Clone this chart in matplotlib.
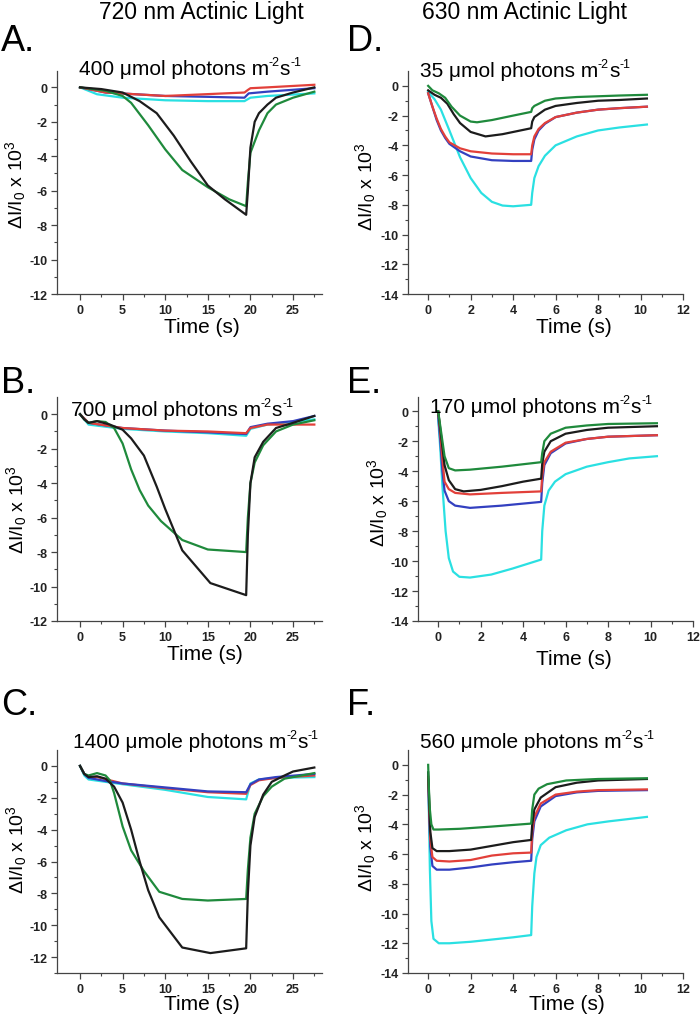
import numpy as np
import matplotlib.pyplot as plt

plt.rcParams['font.family'] = ['Liberation Sans', 'DejaVu Sans']
plt.rcParams['mathtext.fontset'] = 'custom'
plt.rcParams['mathtext.rm'] = 'Liberation Sans'
plt.rcParams['mathtext.it'] = 'Liberation Sans:italic'
plt.rcParams['axes.unicode_minus'] = False

BLACK = '#1c1c1c'
GREEN = '#1f8a3c'
RED = '#e2403a'
BLUE = '#3340c0'
CYAN = '#2ae0e2'

# --- Panel A: 720 nm, 400 umol ---
a_black = [(0, 0), (2.5, -0.1), (5, -0.3), (7, -0.8), (9, -1.5), (11, -2.8), (13, -4.3), (15, -5.7),
           (17, -6.5), (19.5, -7.4), (19.7, -6), (20, -3.5), (20.5, -2), (21, -1.5), (22, -1.0),
           (23, -0.6), (25, -0.3), (27.5, 0)]
a_green = [(0, 0), (3, -0.2), (5, -0.5), (6, -0.9), (8, -2.2), (10, -3.6), (12, -4.8), (15, -5.8),
           (17.5, -6.5), (19.5, -6.9), (19.7, -5.5), (20, -3.8), (21, -2.5), (22, -1.5), (23, -1.0),
           (25, -0.6), (27.5, -0.25)]
a_red = [(0, 0), (3, -0.3), (10, -0.5), (19.3, -0.3), (19.7, -0.15), (20, -0.05), (22, 0), (27.5, 0.15)]
a_blue = [(0, 0), (3, -0.3), (10, -0.5), (15, -0.55), (19.3, -0.6), (19.8, -0.35), (22, -0.25), (27.5, -0.05)]
a_cyan = [(0, 0), (2, -0.4), (5, -0.6), (10, -0.75), (15, -0.8), (19.3, -0.8), (20, -0.6), (22, -0.5),
          (27.5, -0.35)]

# --- Panel B: 720 nm, 700 umol ---
b_black = [(0, 0), (0.5, -0.3), (1, -0.5), (2, -0.4), (3.5, -0.6), (5, -0.9), (6, -1.4), (7.5, -2.4),
           (9, -4.2), (10, -5.5), (12, -7.9), (15.3, -9.8), (19.5, -10.5), (19.7, -7), (20, -4),
           (20.5, -2.5), (21.5, -1.6), (23, -0.8), (25, -0.5), (27.5, -0.1)]
b_green = [(0, 0), (0.5, -0.3), (1, -0.5), (2, -0.4), (3, -0.45), (4, -0.8), (5, -1.7), (6, -3.2),
           (7, -4.4), (8, -5.3), (9.5, -6.2), (12, -7.3), (15, -7.85), (19.5, -8.0), (19.7, -6),
           (20, -4), (20.5, -2.8), (21.5, -1.8), (23, -1.0), (25, -0.6), (27.5, -0.35)]
b_red = [(0, 0), (1, -0.5), (5, -0.8), (10, -0.95), (15, -1.0), (19.5, -1.1), (20, -0.8), (22, -0.6),
         (27.5, -0.6)]
b_blue = [(0, 0), (1, -0.5), (5, -0.8), (10, -0.95), (15, -1.05), (19.5, -1.15), (20, -0.75),
          (22, -0.55), (25, -0.4), (27.5, -0.1)]
b_cyan = [(0, 0), (1, -0.6), (5, -0.85), (10, -1.0), (15, -1.1), (19.5, -1.25), (20, -0.85), (22, -0.6),
          (27.5, -0.3)]

# --- Panel C: 720 nm, 1400 umol ---
c_black = [(0, 0), (0.5, -0.5), (1, -0.7), (2, -0.65), (3, -0.8), (4, -1.3), (5, -2.3), (6, -4.0),
           (7, -6.0), (8, -7.8), (9.3, -9.5), (12, -11.4), (15.3, -11.75), (19.5, -11.45), (19.7, -8),
           (20, -5), (20.5, -3.2), (21.5, -1.8), (22.5, -1.0), (24, -0.6), (25, -0.35), (27.5, -0.1)]
c_green = [(0, 0), (0.5, -0.5), (1, -0.6), (2, -0.45), (3, -0.6), (3.5, -0.9), (4, -1.7), (5, -3.8),
           (6, -5.3), (7.5, -6.6), (9.3, -7.9), (12, -8.35), (15, -8.45), (19.5, -8.35), (19.7, -6.5),
           (20, -4.5), (20.5, -3.0), (21.5, -1.9), (22.5, -1.3), (24, -0.8), (27.5, -0.45)]
c_red = [(0, 0), (0.5, -0.5), (1, -0.7), (2, -0.7), (5, -1.1), (10, -1.4), (15, -1.65), (19.5, -1.75),
         (20, -1.2), (21, -0.9), (23, -0.75), (27.5, -0.6)]
c_blue = [(0, 0), (0.5, -0.5), (1, -0.75), (3, -0.95), (5, -1.1), (10, -1.35), (15, -1.6), (19.5, -1.65),
          (20, -1.15), (21, -0.85), (23, -0.7), (27.5, -0.5)]
c_cyan = [(0, 0), (0.5, -0.6), (1, -0.85), (3, -1.0), (5, -1.15), (10, -1.5), (15, -1.95), (19.5, -2.1),
          (20, -1.1), (21, -0.85), (23, -0.75), (27.5, -0.7)]

# --- Panel D: 630 nm, 35 umol ---
d_green = [(0, 0), (0.2, -0.3), (0.5, -0.5), (0.8, -0.8), (1.1, -1.4), (1.5, -2.0), (2.0, -2.4),
           (2.3, -2.45), (3, -2.3), (4, -2.0), (4.85, -1.75), (4.9, -1.5), (5.0, -1.35), (5.5, -1.0),
           (6, -0.85), (7, -0.75), (8, -0.7), (9, -0.65), (10.3, -0.6)]
d_black = [(0, -0.3), (0.3, -0.6), (0.6, -0.8), (0.9, -1.2), (1.2, -1.9), (1.5, -2.5), (2, -3.1),
           (2.7, -3.4), (3.5, -3.25), (4.85, -2.85), (4.9, -2.4), (5.0, -2.1), (5.5, -1.6), (6, -1.35),
           (7, -1.15), (8, -1.0), (9, -0.95), (10.3, -0.85)]
d_red = [(0, -0.5), (0.2, -1.4), (0.4, -2.2), (0.6, -2.9), (0.8, -3.4), (1.0, -3.8), (1.5, -4.2),
         (2, -4.4), (3, -4.55), (4, -4.6), (4.85, -4.6), (4.9, -4.0), (5.0, -3.4), (5.2, -2.9),
         (5.5, -2.5), (6, -2.1), (7, -1.8), (8, -1.6), (9, -1.5), (10.3, -1.4)]
d_blue = [(0, -0.5), (0.2, -1.4), (0.4, -2.3), (0.6, -3.0), (0.8, -3.5), (1.0, -3.9), (1.5, -4.4),
          (2, -4.75), (3, -5.0), (4, -5.05), (4.85, -5.05), (4.9, -4.3), (5.0, -3.6), (5.2, -3.0),
          (5.5, -2.55), (6, -2.1), (7, -1.8), (8, -1.6), (9, -1.5), (10.3, -1.4)]
d_cyan = [(0, -0.4), (0.3, -0.9), (0.6, -1.6), (1.0, -3.0), (1.5, -4.8), (2, -6.2), (2.5, -7.2),
          (3, -7.8), (3.5, -8.05), (4, -8.1), (4.85, -8.0), (4.9, -7.2), (5.0, -6.2), (5.2, -5.4),
          (5.5, -4.7), (6, -4.0), (7, -3.4), (8, -3.0), (9, -2.8), (10.3, -2.6)]

# --- Panel E: 630 nm, 170 umol ---
e_green = [(0, 0), (0.05, -0.5), (0.15, -1.5), (0.3, -3.0), (0.5, -3.8), (0.8, -3.95), (1.5, -3.9),
           (3, -3.7), (4.85, -3.4), (4.9, -2.8), (5.0, -2.0), (5.3, -1.5), (6, -1.1), (7, -0.95),
           (8, -0.85), (10.3, -0.8)]
e_black = [(0, 0), (0.05, -0.6), (0.15, -1.8), (0.3, -3.6), (0.5, -4.6), (0.8, -5.2), (1.2, -5.35),
           (2, -5.25), (3, -5.0), (4, -4.7), (4.85, -4.5), (4.9, -3.5), (5.0, -2.7), (5.3, -2.0),
           (6, -1.5), (7, -1.25), (8, -1.1), (10.3, -1.0)]
e_red = [(0, 0), (0.1, -1.5), (0.2, -3.2), (0.3, -4.7), (0.5, -5.2), (0.8, -5.45), (1.5, -5.55),
         (3, -5.45), (4.85, -5.35), (4.9, -4.3), (5.0, -3.4), (5.3, -2.7), (6, -2.1), (7, -1.85),
         (8, -1.7), (10.3, -1.6)]
e_blue = [(0, -0.3), (0.1, -2), (0.2, -4), (0.3, -5.3), (0.5, -6.0), (0.8, -6.3), (1.5, -6.45),
          (3, -6.3), (4.85, -6.05), (4.9, -4.8), (5.0, -3.6), (5.3, -2.8), (6, -2.15), (7, -1.85),
          (8, -1.7), (10.3, -1.6)]
e_cyan = [(0, -0.5), (0.1, -2.5), (0.2, -5), (0.35, -8), (0.5, -9.8), (0.7, -10.7), (1.0, -11.05),
          (1.5, -11.1), (2.5, -10.9), (3.5, -10.5), (4.85, -9.9), (4.9, -8.0), (5.0, -6.3), (5.2, -5.3),
          (5.5, -4.7), (6, -4.2), (7, -3.7), (8, -3.4), (9, -3.15), (10.3, -3.0)]

# --- Panel F: 630 nm, 560 umol ---
f_green = [(0, 0), (0.03, -1.5), (0.08, -3), (0.15, -4.0), (0.25, -4.35), (0.5, -4.35), (1.5, -4.3),
           (3, -4.15), (4.85, -3.95), (4.9, -3.0), (5.0, -2.0), (5.2, -1.6), (5.6, -1.3), (6.5, -1.05),
           (8, -0.95), (10.3, -0.9)]
f_black = [(0, -0.5), (0.05, -2.5), (0.1, -4.5), (0.2, -5.6), (0.4, -5.8), (1, -5.8), (2, -5.7),
           (3, -5.45), (4, -5.2), (4.85, -5.05), (4.9, -4.0), (5.0, -3.0), (5.3, -2.2), (6, -1.5),
           (7, -1.2), (8, -1.05), (10.3, -0.95)]
f_red = [(0, -0.8), (0.05, -3), (0.1, -5), (0.2, -6.2), (0.4, -6.45), (1, -6.5), (2, -6.4), (3, -6.1),
         (4, -5.95), (4.85, -5.9), (4.9, -4.5), (5.0, -3.5), (5.3, -2.6), (6, -2.0), (7, -1.8),
         (8, -1.7), (10.3, -1.65)]
f_blue = [(0, -1), (0.05, -3.5), (0.1, -5.5), (0.2, -6.8), (0.4, -7.05), (1, -7.05), (2, -6.9),
          (3, -6.7), (4, -6.55), (4.85, -6.45), (4.9, -5), (5.0, -3.8), (5.3, -2.8), (6, -2.1),
          (7, -1.85), (8, -1.75), (10.3, -1.7)]
f_cyan = [(0, -1), (0.03, -3), (0.08, -7), (0.15, -10.5), (0.25, -11.7), (0.5, -12.0), (1, -12.0),
          (2, -11.9), (3, -11.75), (4, -11.6), (4.85, -11.45), (4.9, -9.5), (5.0, -7.3), (5.1, -6.2),
          (5.3, -5.4), (5.7, -4.9), (6.5, -4.4), (7.5, -4.0), (8.5, -3.8), (10.3, -3.5)]

col_titles = ['720 nm Actinic Light', '630 nm Actinic Light']
panel_letters = ['A.', 'D.', 'B.', 'E.', 'C.', 'F.']
intensities = ['400 \u03bcmol', '700 \u03bcmol', '1400 \u03bcmole',
               '35 \u03bcmol', '170 \u03bcmol', '560 \u03bcmole']
left_xticks = [0, 5, 10, 15, 20, 25]
right_xticks = [0, 2, 4, 6, 8, 10, 12]

W, H = 700, 1020
fig = plt.figure(figsize=(W / 100, H / 100), dpi=100)
renderer = fig.canvas.get_renderer()


def px(x, y):
    return x / W, 1 - y / H


def make_axes(left, right, top, bottom):
    return fig.add_axes([left / W, 1 - bottom / H, (right - left) / W, (bottom - top) / H])


def rich_text(cx, base, parts, size):
    # draw a centred line made of normal and superscript pieces
    items = []
    total = 0
    for txt, sup in parts:
        fs = size * 0.6 if sup else size
        t = fig.text(0, 0, txt, fontsize=fs, ha='left', va='baseline')
        w = t.get_window_extent(renderer).width
        items.append((t, sup, w))
        total += w
    x = cx - total / 2
    for t, sup, w in items:
        dy = size * 100 / 72 * 0.42 if sup else 0
        t.set_position(px(x, base - dy))
        x += w


def style(ax, xlim, ylim, xticks):
    for s in ['top', 'right']:
        ax.spines[s].set_visible(False)
    for s in ['left', 'bottom']:
        ax.spines[s].set_color('#444444')
        ax.spines[s].set_linewidth(0.9)
    ax.set_xlim(*xlim)
    ax.set_ylim(*ylim)
    step = xticks[1] - xticks[0]
    yt = list(range(0, int(np.ceil(ylim[0])) - 1, -2))
    ax.set_xticks(xticks)
    ax.set_xticklabels([str(v) for v in xticks], fontweight='bold')
    ax.set_xticks(np.arange(xticks[0] + step / 2, xlim[1], step), minor=True)
    ax.set_yticks(yt)
    ax.set_yticklabels([str(v) for v in yt], fontweight='bold')
    ax.set_yticks(np.arange(-1, ylim[0] - 0.01, -2), minor=True)
    ax.tick_params(which='major', direction='out', length=4, width=0.9, color='#444444',
                   labelsize=9, pad=3, labelcolor='#222222')
    ax.tick_params(which='minor', direction='out', length=2, width=0.8, color='#444444')


panels = [
    ((57, 322, 72, 295), (-2.7, 28.4), (-12, 0.95), left_xticks, [a_cyan, a_blue, a_red, a_green, a_black]),
    ((57, 322, 398, 622), (-2.7, 28.4), (-12, 1.0), left_xticks, [b_cyan, b_blue, b_red, b_green, b_black]),
    ((57, 322, 751, 974), (-2.7, 28.4), (-13, 1.0), left_xticks, [c_cyan, c_red, c_blue, c_green, c_black]),
    ((408, 683, 72, 295), (-0.95, 12), (-14, 1.0), right_xticks, [d_cyan, d_blue, d_red, d_black, d_green]),
    ((418, 693, 398, 622), (-0.95, 12), (-14, 0.95), right_xticks, [e_cyan, e_blue, e_red, e_black, e_green]),
    ((408, 683, 751, 974), (-0.95, 12), (-14, 1.0), right_xticks, [f_cyan, f_blue, f_red, f_black, f_green]),
]
series_colors = {id(s): c for grp, c in [
    ([a_cyan, b_cyan, c_cyan, d_cyan, e_cyan, f_cyan], CYAN),
    ([a_blue, b_blue, c_blue, d_blue, e_blue, f_blue], BLUE),
    ([a_red, b_red, c_red, d_red, e_red, f_red], RED),
    ([a_green, b_green, c_green, d_green, e_green, f_green], GREEN),
    ([a_black, b_black, c_black, d_black, e_black, f_black], BLACK)] for s in grp}

for (box, xlim, ylim, xticks, series) in panels:
    ax = make_axes(*box)
    for s in series:
        arr = np.array(s, dtype=float)
        ax.plot(arr[:, 0], arr[:, 1], color=series_colors[id(s)], lw=1.6, solid_joinstyle='round')
    style(ax, xlim, ylim, xticks)

# column headings
fig.text(*px(201, 19), col_titles[0], fontsize=16.5, ha='center', va='baseline')
fig.text(*px(524, 19), col_titles[1], fontsize=16.5, ha='center', va='baseline')

# panel letters
letter_pos = [(1, 51), (347, 51), (1, 393), (347, 393), (1, 715), (347, 715)]
for (x, y), lab in zip(letter_pos, panel_letters):
    fig.text(*px(x, y), lab, fontsize=26, ha='left', va='baseline')

# panel titles
title_pos = [(190, 75), (182, 416), (196, 748), (525, 77), (541, 413), (537, 748)]
for (x, y), inten in zip(title_pos, intensities):
    rich_text(x, y, [(inten + ' photons m', False), ('-2', True), ('s', False), ('-1', True)], 15)

# x labels
xlab_pos = [(202, 333), (205, 660), (202, 1010), (574, 333), (574, 665), (567, 1010)]
for x, y in xlab_pos:
    fig.text(*px(x, y), 'Time (s)', fontsize=15, ha='center', va='baseline')

# y labels
ylab_pos = [(16, 185), (17, 510), (17, 850), (366, 187), (378, 503), (366, 848)]
for x, y in ylab_pos:
    fig.text(*px(x, y), '\u0394I/I$_0$ x 10$^3$', fontsize=14, rotation=90,
             ha='center', va='center')

fig.savefig('out.png', dpi=100)
